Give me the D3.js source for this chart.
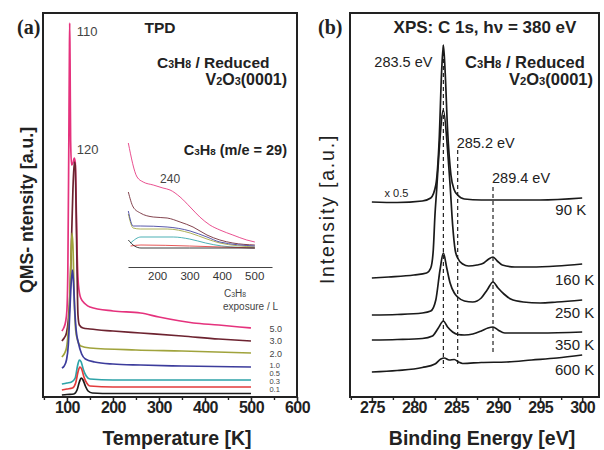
<!DOCTYPE html>
<html><head><meta charset="utf-8">
<script src="https://cdn.jsdelivr.net/npm/d3@7"></script>
<style>
html,body{margin:0;padding:0;background:#fff;}
svg{display:block;font-family:"Liberation Sans",Arial,sans-serif;}
</style></head><body>
<svg id="fig" width="604" height="450"></svg>
<script>
// ---------- (a) TPD of C3H8, m/e = 29 : [temperature K, intensity a.u.] ----------
const tpdExposures = ["5.0", "3.0", "2.0", "1.0", "0.5", "0.3", "0.1"];
const tpdColors = ["#e5327d", "#6d2330", "#a0a33c", "#3c3c9c", "#2ea3a8", "#e23b3b", "#1c1c1c"];

const tpd50 = [[89,6.6],[93,6.9],[97,7.5],[100,8.7],[102,12.7],[104,24.7],[105.3,33.7],[106,37.4],[106.8,33.7],[108,25.7],[110,23.2],[113,23.4],[116,23.9],[118,23.5],[120,19.7],[122,14.7],[125,11.2],[130,9.9],[140,9.3],[150,9.0],[200,8.6],[260,8.4],[300,8.0],[375,7.4],[430,7.2],[475,7.0],[500,6.9]];
const tpd30 = [[89,5.6],[94,5.9],[99,6.4],[103,7.7],[107,10.7],[110,15.7],[113,20.7],[116,23.5],[118,23.2],[120,18.7],[122,12.7],[124,8.2],[127,7.2],[135,6.9],[150,6.8],[200,6.6],[260,6.4],[350,6.1],[430,5.8],[500,5.6]];
const tpd20 = [[89,4.0],[94,4.3],[99,4.9],[103,6.7],[106,9.7],[109,14.2],[111,16.4],[113,15.2],[116,9.7],[119,6.7],[123,5.7],[130,5.1],[150,4.9],[250,4.7],[350,4.6],[500,4.4]];
const tpd10 = [[89,2.9],[94,3.1],[99,3.7],[103,5.2],[106,8.2],[109,11.2],[112,12.7],[114,11.7],[117,8.7],[120,6.7],[125,5.4],[132,4.3],[140,3.8],[160,3.5],[200,3.3],[260,3.2],[350,3.1],[500,3.0]];
const tpd05 = [[89,1.3],[100,1.4],[110,1.5],[118,1.9],[123,3.1],[127,3.7],[131,3.5],[136,2.7],[142,2.1],[150,1.8],[200,1.7],[300,1.7],[400,1.7],[500,1.7]];
const tpd03 = [[89,0.7],[100,0.8],[112,0.9],[119,1.4],[124,2.5],[128,3.0],[132,2.8],[137,2.0],[143,1.4],[150,1.1],[200,1.0],[300,1.0],[500,1.0]];
const tpd01 = [[89,0.2],[100,0.25],[115,0.3],[122,0.7],[127,1.5],[131,1.9],[135,1.7],[140,1.1],[146,0.6],[155,0.4],[200,0.35],[300,0.35],[500,0.35]];
const tpdSeries = [tpd50, tpd30, tpd20, tpd10, tpd05, tpd03, tpd01];
const tpdLabelLevels = [6.5, 5.3, 4.0, 2.9, 2.1, 1.3, 0.5];

// magnified high-temperature region (inset)
const inset50 = [[111,12.4],[138,9.0],[157,8.5],[188,8.2],[218,7.9],[240,7.7],[271,7.0],[302,6.0],[332,5.0],[363,4.2],[394,3.7],[434,3.2],[477,2.7],[502,2.5]];
const inset30 = [[111,7.5],[126,6.0],[148,5.4],[188,5.0],[231,4.9],[271,4.5],[311,4.0],[354,3.2],[394,2.7],[434,2.4],[502,2.2]];
const inset20 = [[111,5.3],[126,3.9],[148,3.8],[231,3.8],[302,3.4],[354,2.8],[394,2.4],[502,2.0]];
const inset10 = [[111,5.6],[126,4.1],[148,4.1],[231,4.0],[302,3.6],[354,3.0],[394,2.5],[502,2.1]];
const inset05 = [[118,2.4],[150,3.0],[250,3.0],[300,2.8],[350,2.4],[400,2.1],[502,1.9]];
const inset03 = [[118,2.1],[150,2.2],[300,2.1],[400,2.0],[502,1.9]];
const inset01 = [[111,2.7],[130,2.1],[150,1.9],[300,1.9],[502,1.9]];
const insetSeries = [inset50, inset30, inset20, inset10, inset05, inset03, inset01];

const tpdTicks = [100, 200, 300, 400, 500, 600];
const tpdMinorTicks = [50, 150, 250, 350, 450, 550];
const insetTicks = [200, 300, 400, 500];

// ---------- (b) XPS C 1s : [binding energy eV, intensity a.u.] ----------
const xpsTemps = ["90 K", "160 K", "250 K", "350 K", "600 K"];
const xps90 = [[275,19.5],[278,19.45],[281,19.6],[282,19.9],[282.6,21.2],[283,25.7],[283.3,32.7],[283.5,35.2],[283.7,32.7],[284,26.7],[284.4,22.2],[284.8,20.7],[285.2,20.2],[286,19.8],[288,19.7],[290,19.7],[295,19.7],[300,19.9]];
const xps160 = [[275,11.9],[277,12.0],[280,12.2],[281.5,12.4],[282,12.9],[282.3,14.7],[282.5,18.2],[282.7,20.7],[283,24.7],[283.5,28.7],[284,24.7],[284.3,21.2],[284.6,17.2],[284.9,14.7],[285.2,13.9],[285.8,13.3],[286.5,13.1],[287.5,13.2],[288.3,13.4],[288.9,13.8],[289.4,14.0],[289.9,13.6],[290.5,13.2],[292,13.0],[294,13.0],[297,13.1],[300,13.3]];
const xps250 = [[275,8.2],[278,8.25],[281,8.4],[282,8.6],[282.6,9.7],[283.1,12.7],[283.5,14.4],[283.9,12.9],[284.3,11.4],[284.8,10.4],[285.2,10.0],[286,9.6],[287,9.5],[288,9.9],[288.7,10.7],[289.4,11.5],[290,10.9],[290.7,10.3],[291.5,9.8],[293,9.5],[295,9.4],[297,9.5],[300,9.7]];
const xps350 = [[275,5.7],[278,5.75],[281,5.85],[282.2,6.1],[282.9,6.9],[283.5,7.6],[284,7.0],[284.6,6.5],[285.2,6.25],[286,6.2],[287,6.3],[288,6.6],[288.8,6.9],[289.4,7.0],[290,6.7],[290.8,6.4],[292,6.4],[295,6.4],[300,6.5]];
const xps600 = [[275,2.5],[278,2.65],[281,2.95],[282.5,3.3],[283.2,3.8],[283.6,3.9],[284.2,3.7],[284.8,3.75],[285.3,3.5],[285.8,3.35],[288,3.45],[291,3.5],[294,3.7],[297,3.9],[300,4.2]];
const xpsSeries = [xps90, xps160, xps250, xps350, xps600];
const xpsLabelLevels = [18.2, 11.2, 7.9, 4.7, 2.2];

// peak positions: [energy eV, top, bottom] of the dashed markers
const xpsPeaks = [[283.5, 35.2, 2.9], [285.2, 24.7, 3.0], [289.4, 21.0, 4.5]];
const xpsTicks = [275, 280, 285, 290, 295, 300];
const xpsMinorTicks = [272.5, 277.5, 282.5, 287.5, 292.5, 297.5];

// ---------- layout ----------
const svg = d3.select("#fig");
const ink = "#222";
const plotTop = 13, plotBottom = 397;

const xA = d3.scaleLinear().domain([48, 600]).range([43, 297]);
const yA = d3.scaleLinear().domain([0, 38.4]).range([plotBottom, plotTop]);
const xIn = d3.scaleLinear().domain([110, 555]).range([128, 272]);
const yIn = d3.scaleLinear().domain([0, 13.7]).range([267, 130]);
const xB = d3.scaleLinear().domain([272.4, 302]).range([350, 599]);
const yB = d3.scaleLinear().domain([0, 38.4]).range([plotBottom, plotTop]);

function richText(sel, x, y, parts, size, weight, anchor, fill) {
  const t = sel.append("text").attr("x", x).attr("y", y)
    .attr("font-size", size).attr("font-weight", weight || "normal")
    .attr("text-anchor", anchor || "start").attr("fill", fill || ink);
  parts.forEach(p => t.append("tspan").attr("font-size", p[1] ? size * 0.68 : size).text(p[0]));
  return t;
}

function bottomAxis(g, scale, ticks, minor) {
  const ax = g.append("g").attr("transform", `translate(0,${plotBottom})`);
  ax.call(d3.axisBottom(scale).tickValues(ticks).tickSize(5).tickPadding(0).tickFormat(d3.format("d")));
  ax.select(".domain").remove();
  ax.selectAll(".tick line").attr("stroke", ink).attr("stroke-width", 1.6);
  ax.selectAll(".tick text").attr("font-size", 16).attr("font-weight", "bold")
    .attr("fill", ink).attr("letter-spacing", -0.6).attr("font-family", "Liberation Sans, Arial, sans-serif");
  const mn = g.append("g").attr("transform", `translate(0,${plotBottom})`);
  mn.call(d3.axisBottom(scale).tickValues(minor).tickSize(3).tickFormat(""));
  mn.select(".domain").remove();
  mn.selectAll(".tick line").attr("stroke", ink).attr("stroke-width", 1.4);
}

// ================= panel (a) =================
const gA = svg.append("g");
const lineA = d3.line().x(d => xA(d[0])).y(d => yA(d[1])).curve(d3.curveMonotoneX);

tpdSeries.forEach((s, i) => {
  gA.append("path").datum(s).attr("d", lineA).attr("fill", "none")
    .attr("stroke", tpdColors[i]).attr("stroke-width", 1.7).attr("stroke-linejoin", "round");
});

// exposure labels beside the trace ends
tpdExposures.forEach((e, i) => {
  gA.append("text").attr("x", xA(540)).attr("y", yA(tpdLabelLevels[i]))
    .attr("font-size", i > 2 ? 7.5 : 9).attr("fill", "#444").text(e);
});
richText(gA, 224, 297, [["C", 0], ["3", 1], ["H", 0], ["8", 1]], 10, "normal", "start", "#444");
gA.append("text").attr("x", 223).attr("y", 310).attr("font-size", 10).attr("fill", "#444").text("exposure / L");

// inset
const lineIn = d3.line().x(d => xIn(d[0])).y(d => yIn(d[1])).curve(d3.curveMonotoneX);
insetSeries.forEach((s, i) => {
  gA.append("path").datum(s).attr("d", lineIn).attr("fill", "none")
    .attr("stroke", tpdColors[i]).attr("stroke-width", 1).attr("opacity", 0.85);
});
const inAx = gA.append("g").attr("transform", `translate(0,${yIn(0)})`);
inAx.call(d3.axisBottom(xIn).tickValues(insetTicks).tickSize(0).tickPadding(5).tickFormat(d3.format("d")));
inAx.select(".domain").attr("stroke", "#444").attr("stroke-width", 1.2);
inAx.selectAll(".tick text").attr("font-size", 11.5).attr("fill", "#333")
  .attr("font-family", "Liberation Sans, Arial, sans-serif");
gA.append("text").attr("x", xIn(240)).attr("y", 183).attr("text-anchor", "middle")
  .attr("font-size", 12).attr("fill", "#444").text("240");

bottomAxis(gA, xA, tpdTicks, tpdMinorTicks);
gA.append("rect").attr("x", 43).attr("y", plotTop).attr("width", 297 - 43).attr("height", plotBottom - plotTop)
  .attr("fill", "none").attr("stroke", ink).attr("stroke-width", 2);

// peak annotations
gA.append("text").attr("x", xA(106) + 7).attr("y", 36).attr("font-size", 13).attr("fill", "#444").text("110");
gA.append("text").attr("x", xA(106) + 7).attr("y", 154).attr("font-size", 13).attr("fill", "#444").text("120");

gA.append("text").attr("x", 160).attr("y", 33).attr("text-anchor", "middle")
  .attr("font-size", 15.5).attr("font-weight", "bold").attr("fill", ink).text("TPD");
richText(gA, 157, 68, [["C", 0], ["3", 1], ["H", 0], ["8", 1], [" / Reduced", 0]], 15.5, "bold");
richText(gA, 287, 85, [["V", 0], ["2", 1], ["O", 0], ["3", 1], ["(0001)", 0]], 16, "bold", "end");
richText(gA, 287, 155, [["C", 0], ["3", 1], ["H", 0], ["8", 1], [" (m/e = 29)", 0]], 14.5, "bold", "end");

gA.append("text").attr("x", 17).attr("y", 34).attr("font-family", "Liberation Serif, Times New Roman, serif")
  .attr("font-size", 20).attr("font-weight", "bold").attr("fill", ink).text("(a)");
gA.append("text").attr("x", 177).attr("y", 445).attr("text-anchor", "middle")
  .attr("font-size", 19.5).attr("font-weight", "bold").attr("fill", ink).text("Temperature [K]");
gA.append("text").attr("transform", "translate(33,210) rotate(-90)").attr("text-anchor", "middle")
  .attr("font-size", 17.7).attr("font-weight", "bold").attr("fill", ink).text("QMS- ntensity [a.u.]");

// ================= panel (b) =================
const gB = svg.append("g");
const lineB = d3.line().x(d => xB(d[0])).y(d => yB(d[1])).curve(d3.curveMonotoneX);

xpsPeaks.forEach(p => {
  gB.append("line").attr("x1", xB(p[0])).attr("x2", xB(p[0]))
    .attr("y1", yB(p[1])).attr("y2", yB(p[2]))
    .attr("stroke", ink).attr("stroke-width", 1.2).attr("stroke-dasharray", "4,3");
});
xpsSeries.forEach(s => {
  gB.append("path").datum(s).attr("d", lineB).attr("fill", "none")
    .attr("stroke", "#1a1a1a").attr("stroke-width", 1.7).attr("stroke-linejoin", "round");
});

xpsTemps.forEach((t, i) => {
  gB.append("text").attr("x", i === 0 ? xB(300) + 4 : xB(300) + 12).attr("y", yB(xpsLabelLevels[i]))
    .attr("text-anchor", "end").attr("font-size", 15).attr("fill", ink).text(t);
});
gB.append("text").attr("x", xB(276.5)).attr("y", 197).attr("font-size", 11).attr("fill", ink).text("x 0.5");

gB.append("text").attr("x", xB(283.5) - 11).attr("y", 67).attr("text-anchor", "end")
  .attr("font-size", 14.5).attr("fill", ink).text("283.5 eV");
gB.append("text").attr("x", xB(285.2) - 1).attr("y", 148)
  .attr("font-size", 14.5).attr("fill", ink).text("285.2 eV");
gB.append("text").attr("x", xB(289.4) - 1).attr("y", 183)
  .attr("font-size", 14.5).attr("fill", ink).text("289.4 eV");

bottomAxis(gB, xB, xpsTicks, xpsMinorTicks);
gB.append("rect").attr("x", 350).attr("y", plotTop).attr("width", 599 - 350).attr("height", plotBottom - plotTop)
  .attr("fill", "none").attr("stroke", ink).attr("stroke-width", 2);

gB.append("text").attr("x", 485).attr("y", 33).attr("text-anchor", "middle")
  .attr("font-size", 17).attr("font-weight", "bold").attr("fill", ink).text("XPS: C 1s, h\u03bd = 380 eV");
richText(gB, 465, 68, [["C", 0], ["3", 1], ["H", 0], ["8", 1], [" / Reduced", 0]], 16.5, "bold");
richText(gB, 593, 85, [["V", 0], ["2", 1], ["O", 0], ["3", 1], ["(0001)", 0]], 16.5, "bold", "end");

gB.append("text").attr("x", 318).attr("y", 34).attr("font-family", "Liberation Serif, Times New Roman, serif")
  .attr("font-size", 20).attr("font-weight", "bold").attr("fill", ink).text("(b)");
gB.append("text").attr("x", 482).attr("y", 445).attr("text-anchor", "middle")
  .attr("font-size", 19.5).attr("font-weight", "bold").attr("fill", ink).text("Binding Energy [eV]");
gB.append("text").attr("transform", "translate(334,209) rotate(-90)").attr("text-anchor", "middle")
  .attr("font-size", 19.5).attr("letter-spacing", 1.8).attr("fill", ink).text("Intensity [a.u.]");
</script>
</body></html>
